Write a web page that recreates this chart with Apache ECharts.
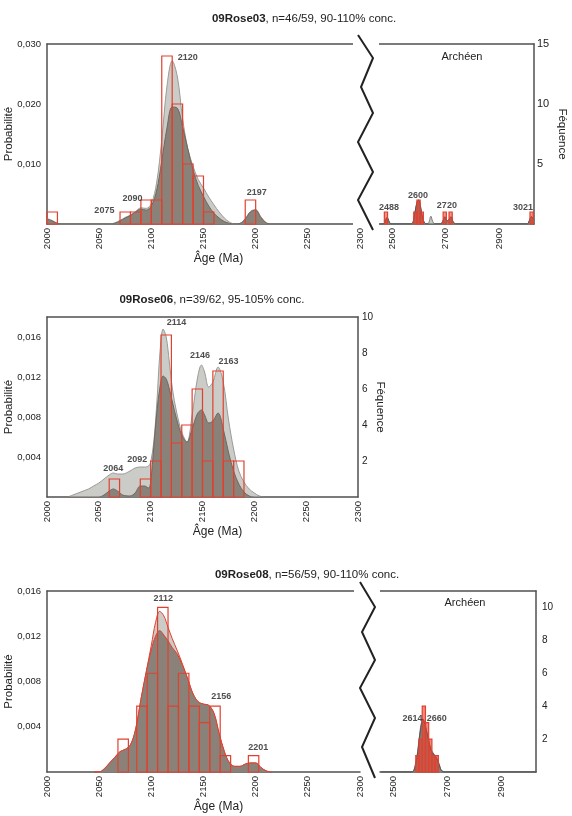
<!DOCTYPE html>
<html><head><meta charset="utf-8">
<script src="https://cdn.jsdelivr.net/npm/echarts@6/dist/echarts.min.js"></script>
<style>html,body{margin:0;padding:0;background:#fff}#c{width:572px;height:816px}</style>
</head><body><div id="c"></div>
<script>
// ---------- Panel 1 : 09Rose03 ----------
const p1Ages  = [2000,2005,2010,2015,2020,2030,2040,2050,2060,2065,2070,2075,2080,2085,2090,2095,2100,2105,2110,2115,2120,2125,2130,2135,2140,2145,2150,2155,2160,2165,2170,2175,2180,2185,2190,2195,2200,2205,2210,2215];
const p1Light = [0.0009,0.0006,0.0001,0,0,0,0,0,0,0.0002,0.0006,0.0011,0.0015,0.0021,0.0027,0.0026,0.0034,0.0068,0.014,0.023,0.0272,0.0245,0.0175,0.0125,0.0096,0.0074,0.006,0.0045,0.0032,0.002,0.001,0.0003,0,0.0001,0.0009,0.0021,0.0024,0.0012,0.0002,0];
const p1Dark  = [0.0008,0.0005,0.0001,0,0,0,0,0,0,0.0001,0.0005,0.001,0.0014,0.002,0.0025,0.0023,0.003,0.0055,0.0105,0.016,0.0195,0.0193,0.0162,0.0125,0.009,0.0064,0.0046,0.003,0.0018,0.001,0.0004,0.0001,0,0.0001,0.0008,0.002,0.0023,0.0011,0.0002,0];
const p1BinStart = [2000,2070,2080,2090,2100,2110,2120,2130,2140,2150,2190];
const p1Freq     = [1,1,1,2,2,14,10,5,4,1,2];
const p1PeakText = ['2120','2090','2075','2197'];
const p1PeakAt   = [[2135,0.0278],[2082,0.0043],[2055,0.0022],[2201,0.0052]];

const p1ArchAges  = [2455,2465,2472,2480,2488,2495,2505,2540,2570,2578,2585,2592,2598,2605,2612,2620,2630,2637,2644,2651,2660,2680,2690,2697,2705,2712,2720,2728,2740,2800,2900,2990,3005,3012,3020,3030];
const p1ArchLight = [0,0,0.0003,0.0011,0.0004,0,0,0,0,0.0004,0.002,0.0036,0.004,0.003,0.0012,0.0002,0,0.0003,0.0013,0.0004,0,0,0.0006,0.0012,0.0005,0.0008,0.0012,0.0003,0,0,0,0,0,0.0005,0.0012,0.0008];
const p1ArchDark  = [0,0,0.0003,0.0011,0.0004,0,0,0,0,0.0004,0.002,0.0036,0.004,0.003,0.0012,0.0002,0,0,0,0,0,0,0.0006,0.0012,0.0005,0.0008,0.0012,0.0003,0,0,0,0,0,0.0005,0.0012,0.0008];
const p1ArchBinStart = [2470,2580,2592,2604,2690,2712,3015];
const p1ArchFreq     = [1,1,2,1,1,1,1];
const p1ArchPeakText = ['2488','2600','2720','3021'];
const p1ArchPeakAt   = [[2487,0.0027],[2596,0.0047],[2704,0.003],[2989,0.0028]];

// ---------- Panel 2 : 09Rose06 ----------
const p2Ages  = [2020,2025,2030,2035,2040,2045,2050,2055,2060,2064,2068,2073,2080,2085,2090,2094,2098,2100,2103,2106,2109,2112,2115,2118,2121,2125,2130,2135,2140,2145,2149,2152,2156,2160,2165,2170,2175,2180,2185,2190,2195,2200,2205,2210];
const p2Light = [0,0.0002,0.0004,0.0006,0.0008,0.0011,0.0014,0.0018,0.0022,0.0024,0.0023,0.0023,0.0026,0.0029,0.003,0.003,0.0031,0.0035,0.0055,0.0095,0.0145,0.0168,0.016,0.0135,0.0108,0.0085,0.0065,0.0055,0.0082,0.0118,0.0132,0.0125,0.011,0.0115,0.013,0.0115,0.0078,0.0048,0.0026,0.0015,0.0008,0.0004,0.0001,0];
const p2Dark  = [0,0,0,0,0,0,0,0.0002,0.0006,0.0008,0.0006,0.0002,0.0001,0.0004,0.0011,0.0011,0.0009,0.0015,0.005,0.0085,0.011,0.0121,0.0118,0.0108,0.0095,0.0078,0.0062,0.0055,0.0068,0.0083,0.0087,0.0082,0.0074,0.0076,0.0084,0.0068,0.0045,0.0026,0.0013,0.0005,0.0001,0,0,0];
const p2BinStart = [2060,2090,2100,2110,2120,2130,2140,2150,2160,2170,2180];
const p2Freq     = [1,1,2,9,3,4,6,2,7,2,2];
const p2PeakText = ['2114','2146','2163','2092','2064'];
const p2PeakAt   = [[2125,0.0174],[2147.5,0.0141],[2175,0.0135],[2087,0.0037],[2064,0.0028]];

// ---------- Panel 3 : 09Rose08 ----------
const p3Ages  = [2045,2050,2055,2060,2065,2070,2075,2080,2085,2090,2095,2100,2104,2108,2112,2116,2120,2125,2130,2135,2140,2145,2150,2155,2160,2165,2170,2175,2180,2185,2190,2195,2200,2205,2210,2215];
const p3Light = [0,0,0.0003,0.0008,0.0013,0.0018,0.002,0.0024,0.0038,0.0064,0.0088,0.0112,0.0132,0.0142,0.0138,0.0128,0.0118,0.0107,0.0095,0.0082,0.0069,0.0062,0.006,0.0059,0.0052,0.0034,0.0018,0.0008,0.0005,0.0005,0.0007,0.0008,0.0008,0.0004,0.0001,0];
const p3Dark  = [0,0,0.0003,0.0008,0.0013,0.0018,0.002,0.0024,0.0038,0.0064,0.0088,0.0108,0.012,0.0125,0.0121,0.0116,0.011,0.0104,0.0094,0.0082,0.0069,0.0062,0.006,0.0059,0.0052,0.0034,0.0018,0.0008,0.0005,0.0005,0.0007,0.0008,0.0008,0.0004,0.0001,0];
const p3BinStart = [2068,2086,2096,2106,2116,2126,2136,2146,2156,2166,2193];
const p3Freq     = [2,4,6,10,4,6,4,3,4,1,1];
const p3PeakText = ['2112','2156','2201'];
const p3PeakAt   = [[2111.5,0.01535],[2167,0.0067],[2202.5,0.0022]];

const p3ArchAges  = [2455,2500,2550,2570,2580,2590,2600,2610,2620,2630,2640,2650,2660,2670,2680,2700,2800,2900,3030];
const p3ArchLight = [0,0,0,0,0.0005,0.0018,0.0038,0.0047,0.004,0.0029,0.002,0.0016,0.0013,0.0007,0.0001,0,0,0,0];
const p3ArchDark  = [0,0,0,0,0.0004,0.0016,0.0036,0.0046,0.0039,0.0028,0.0019,0.0015,0.0012,0.0006,0.0001,0,0,0,0];
const p3ArchBinStart = [2583,2595,2607,2619,2631,2643,2655];
const p3ArchFreq     = [1,2,4,3,2,1,1];
const p3ArchPeakText = ['2614','2660'];
const p3ArchPeakAt   = [[2571,0.0047],[2661,0.0047]];

// ---------- styling ----------
const FONT = '"Liberation Sans", Arial, Helvetica, sans-serif';
const AX = '#505050';
const LIGHT_FILL = '#cbcbc7', LIGHT_LINE = '#9a9a96';
const DARK_FILL = '#8a8279', DARK_LINE = '#6e675f';
const RED = '#e2402e';
const TXT = '#222';

const chart = echarts.init(document.getElementById('c'), null, {renderer:'canvas'});

function probFmt(v){ return v === 0 ? '' : v.toFixed(3).replace('.', ','); }

function xBottom(grid, min, max, opts){
  return Object.assign({
    type:'value', gridIndex:grid, position:'bottom', min, max, interval:50,
    axisLine:{show:true, onZero:false, lineStyle:{color:AX, width:1.5}},
    axisTick:{show:false}, splitLine:{show:false},
    axisLabel:{rotate:90, fontSize:9.5, color:TXT, fontFamily:FONT, margin:4,
      formatter: v => String(v), showMinLabel:true, showMaxLabel:true},
  }, opts||{});
}
function xTop(grid, min, max){
  return {type:'value', gridIndex:grid, position:'top', min, max,
    axisLine:{show:true, onZero:false, lineStyle:{color:AX, width:1.5}},
    axisTick:{show:false}, splitLine:{show:false}, axisLabel:{show:false}};
}
const xName = {name:'Âge (Ma)', nameLocation:'middle', nameGap:26,
  nameTextStyle:{fontSize:12, color:TXT, fontFamily:FONT, padding:[0,0,0,30]}};
const archLabel = {rotate:90, fontSize:9.5, color:TXT, fontFamily:FONT, margin:4,
  formatter: v => ((v-2500) % 200 === 0 && v>=2500 && v<=2900) ? String(v) : ''};

function yProb(grid, max, interval, show, opts){
  return Object.assign({
    type:'value', gridIndex:grid, position:'left', min:0, max, interval, show,
    axisLine:{show:true, onZero:false, lineStyle:{color:AX, width:1.5}},
    axisTick:{show:false}, splitLine:{show:false},
    axisLabel:{formatter:probFmt, fontSize:9.5, color:TXT, fontFamily:FONT, margin:6, showMinLabel:false},
  }, opts||{});
}
function yFreq(grid, max, interval, show, opts){
  return Object.assign({
    type:'value', gridIndex:grid, position:'right', min:0, max, interval, show,
    axisLine:{show:true, onZero:false, lineStyle:{color:AX, width:1.5}},
    axisTick:{show:false}, splitLine:{show:false},
    axisLabel:{fontSize:10, color:TXT, fontFamily:FONT, margin:4, showMinLabel:false},
  }, opts||{});
}
const probName = {name:'Probabilité', nameLocation:'middle', nameGap:32, nameMoveOverlap:false,
  nameTextStyle:{fontSize:11.5, color:TXT, fontFamily:FONT}};
function freqName(gap){ return {name:'Féquence', nameLocation:'middle', nameGap:gap, nameRotate:-90, nameMoveOverlap:false,
  nameTextStyle:{fontSize:11.5, color:TXT, fontFamily:FONT}}; }

function curve(xi, yi, ages, vals, fill, stroke, z){
  return {type:'line', xAxisIndex:xi, yAxisIndex:yi, data:ages.map((a,i)=>[a, vals[i]]),
    smooth:0.35, symbol:'none', silent:true, z,
    lineStyle:{color:stroke, width:1}, areaStyle:{color:fill, opacity:1}};
}
function bars(xi, yi, starts, freqs, width, fill, z){
  return {type:'custom', xAxisIndex:xi, yAxisIndex:yi, silent:true, z:z||5,
    data: starts.map((s,i)=>[s, s+width, freqs[i]]),
    encode:{x:[0,1], y:2},
    renderItem:(params, api)=>{
      const a = api.coord([api.value(0), api.value(2)]);
      const b = api.coord([api.value(1), 0]);
      return {type:'rect', shape:{x:a[0], y:a[1], width:b[0]-a[0], height:b[1]-a[1]},
        style:{fill:fill, stroke:RED, lineWidth:1.2}};
    }};
}
function peaks(xi, yi, texts, pos){
  return {type:'scatter', xAxisIndex:xi, yAxisIndex:yi, silent:true, z:10, symbolSize:1,
    itemStyle:{color:'rgba(0,0,0,0)'},
    data: pos.map((p,i)=>({value:p, label:{formatter:texts[i]}})),
    label:{show:true, position:'inside', fontSize:9, fontWeight:'bold', color:TXT, fontFamily:FONT}};
}

const grids = [
  {left:47, top:44, width:313, height:180},   // P1 left
  {left:379, top:44, width:155, height:180},  // P1 Archean
  {left:47, top:317, width:311, height:180},  // P2
  {left:47, top:591, width:313, height:181},  // P3 left
  {left:380, top:591, width:156, height:181}, // P3 Archean
].map(g=>Object.assign(g,{containLabel:false, outerBoundsMode:'none'}));

const xAxes = [
  xBottom(0, 2000, 2300, xName), xTop(0, 2000, 2300),
  xBottom(1, 2450, 3030, {axisLabel:archLabel}), xTop(1, 2450, 3030),
  xBottom(2, 2000, 2300, xName), xTop(2, 2000, 2300),
  xBottom(3, 2000, 2300, xName), xTop(3, 2000, 2300),
  xBottom(4, 2450, 3030, {axisLabel:archLabel}), xTop(4, 2450, 3030),
];
const yAxes = [
  yProb(0, 0.03, 0.01, true, probName),
  yFreq(0, 15, 5, false),
  yProb(1, 0.03, 0.01, false),
  yFreq(1, 15, 5, true, Object.assign({}, freqName(22), {axisLabel:{fontSize:11, color:TXT, fontFamily:FONT, margin:3, showMinLabel:false}})),
  yProb(2, 0.018, 0.004, true, Object.assign({}, probName, {axisLabel:{formatter:probFmt, fontSize:9.5, color:TXT, fontFamily:FONT, margin:6, showMinLabel:false, showMaxLabel:false}})),
  yFreq(2, 10, 2, true, freqName(16)),
  yProb(3, 0.016, 0.004, true, probName),
  yFreq(3, 11, 2, false),
  yProb(4, 0.016, 0.004, false),
  yFreq(4, 11, 2, true, {axisLabel:{fontSize:10, color:TXT, fontFamily:FONT, margin:6, showMinLabel:false, showMaxLabel:false}}),
];

const series = [
  curve(0,0,p1Ages,p1Light,LIGHT_FILL,LIGHT_LINE,2),
  curve(0,0,p1Ages,p1Dark,DARK_FILL,DARK_LINE,3),
  bars(0,1,p1BinStart,p1Freq,10,'none'),
  peaks(0,0,p1PeakText,p1PeakAt),

  curve(2,2,p1ArchAges,p1ArchLight,LIGHT_FILL,'#777',2),
  curve(2,2,p1ArchAges,p1ArchDark,DARK_FILL,'#555',3),
  bars(2,3,p1ArchBinStart,p1ArchFreq,12,'rgba(226,64,46,0.55)'),
  peaks(2,2,p1ArchPeakText,p1ArchPeakAt),

  curve(4,4,p2Ages,p2Light,LIGHT_FILL,LIGHT_LINE,2),
  curve(4,4,p2Ages,p2Dark,DARK_FILL,DARK_LINE,3),
  bars(4,5,p2BinStart,p2Freq,10,'none'),
  peaks(4,4,p2PeakText,p2PeakAt),

  curve(6,6,p3Ages,p3Light,LIGHT_FILL,RED,2),
  curve(6,6,p3Ages,p3Dark,DARK_FILL,RED,3),
  bars(6,7,p3BinStart,p3Freq,10,'none'),
  peaks(6,6,p3PeakText,p3PeakAt),

  curve(8,8,p3ArchAges,p3ArchLight,LIGHT_FILL,'#666',2),
  curve(8,8,p3ArchAges,p3ArchDark,DARK_FILL,'#555',3),
  bars(8,9,p3ArchBinStart,p3ArchFreq,12,'rgba(226,64,46,0.6)'),
  peaks(8,8,p3ArchPeakText,p3ArchPeakAt),
];

function zig(pts){ return {type:'polyline', z:100, shape:{points:pts}, style:{stroke:'#222', lineWidth:2, fill:null}}; }
function gap(x,y,w,h){ return {type:'rect', z:99, shape:{x,y,width:w,height:h}, style:{fill:'#fff'}}; }
function txt(text,x,y,size,extra){ return Object.assign({type:'text', z:101,
  style:{text, x, y, textAlign:'center', textVerticalAlign:'middle', font:`${size}px ${FONT}`, fill:TXT,
    rich:{b:{fontWeight:'bold', fontSize:size, fontFamily:FONT, fill:TXT}}}}, extra||{}); }

const graphic = [
  gap(353,38,26,188), gap(354,586,26,185),
  zig([[358,35],[373,58],[361,87],[373,113],[358,142],[373,172],[358,200],[373,230]]),
  zig([[360,582],[375,607],[362,632],[375,660],[360,688],[375,718],[362,747],[375,778]]),
  txt('{b|09Rose03}, n=46/59, 90-110% conc.', 304, 19, 11.5),
  txt('{b|09Rose06}, n=39/62, 95-105% conc.', 212, 300, 11.5),
  txt('{b|09Rose08}, n=56/59, 90-110% conc.', 307, 575, 11.5),
  txt('Archéen', 462, 57, 11),
  txt('Archéen', 465, 603, 11),
];

chart.setOption({
  animation:false,
  backgroundColor:'#fff',
  textStyle:{fontFamily:FONT},
  grid:grids, xAxis:xAxes, yAxis:yAxes, series, graphic
});
</script></body></html>
